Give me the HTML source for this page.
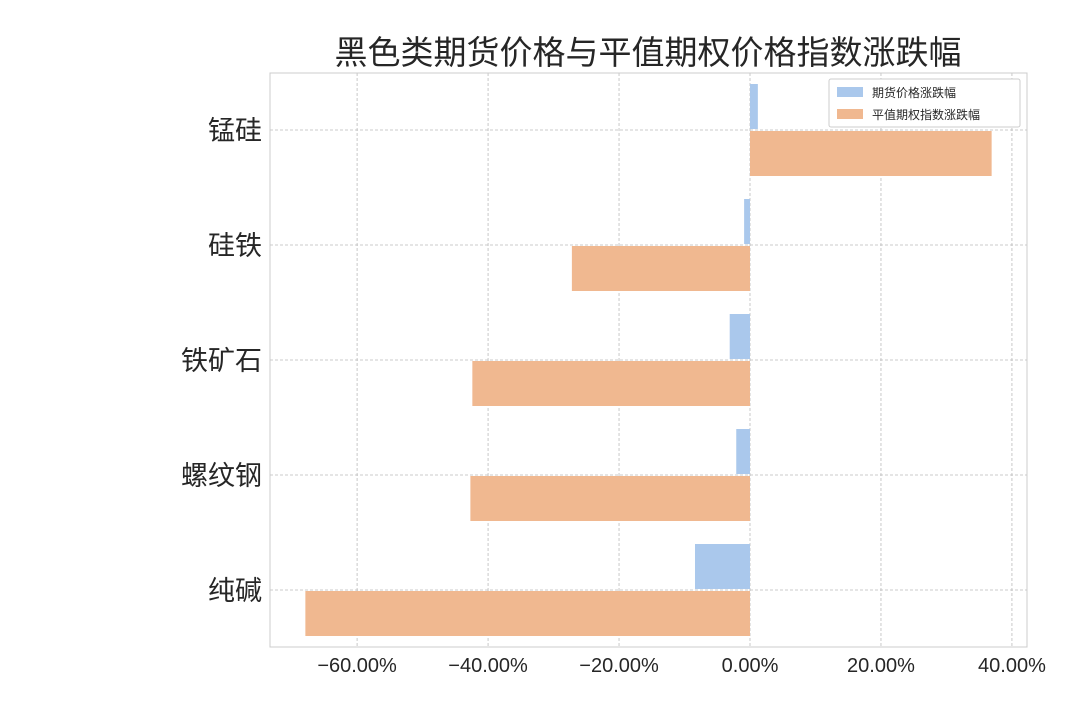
<!DOCTYPE html>
<html><head><meta charset="utf-8"><style>
body{margin:0;background:#fff;}
svg text{font-family:"Liberation Sans","Noto Sans CJK SC",sans-serif;fill:#262626;}
</style></head><body>
<svg width="1080" height="720">
<text x="648" y="64" font-size="33" text-anchor="middle">黑色类期货价格与平值期权价格指数涨跌幅</text>
<g id="plot"></g>
<g>
<rect x="829" y="79" width="191" height="48" fill="#fff" stroke="#ccc" rx="2"/>
<rect x="837" y="87" width="26" height="10" fill="#aac8ec"/>
<text x="872" y="97" font-size="12">期货价格涨跌幅</text>
<rect x="837" y="109" width="26" height="10" fill="#f0b890"/>
<text x="872" y="119" font-size="12">平值期权指数涨跌幅</text>
</g>
</svg>
<script>
const categories=["锰硅","硅铁","铁矿石","螺纹钢","纯碱"];
const futures=[1.2,-0.9,-3.1,-2.1,-8.4];
const options=[36.9,-27.2,-42.4,-42.7,-67.9];
const xTicks=[-60,-40,-20,0,20,40];
const NS="http://www.w3.org/2000/svg";
const L=270,R=1027,T=73,B=647,xmin=-73.3,xmax=42.3;
const x=v=>L+(v-xmin)/(xmax-xmin)*(R-L);
const yc=i=>130+i*115;
const g=document.getElementById('plot');
function mk(t,a){const e=document.createElementNS(NS,t);for(const k in a)e.setAttribute(k,a[k]);g.appendChild(e);return e;}
xTicks.forEach(v=>{
const l=mk('line',{x1:x(v),x2:x(v),y1:T,y2:B,stroke:'#bbb','stroke-dasharray':'3,2','stroke-width':0.8});


const t=mk('text',{x:x(v),y:672,'font-size':20,'text-anchor':'middle'});
t.textContent=(v<0?'−':'')+Math.abs(v).toFixed(2)+'%';


});
categories.forEach((c,i)=>{
const l=mk('line',{x1:L,x2:R,y1:yc(i),y2:yc(i),stroke:'#bbb','stroke-dasharray':'3,2','stroke-width':0.8});


const t=mk('text',{x:262,y:yc(i)+10,'font-size':27,'text-anchor':'end'});
t.textContent=c;


const f=futures[i],o=options[i];
const b1=mk('rect',{x:Math.min(x(0),x(f)),y:yc(i)-46,width:Math.abs(x(f)-x(0)),height:45,fill:'#aac8ec'});


const b2=mk('rect',{x:Math.min(x(0),x(o)),y:yc(i)+1,width:Math.abs(x(o)-x(0)),height:45,fill:'#f0b890'});


});
const fr=mk('rect',{x:L,y:T,width:R-L,height:B-T,fill:'none',stroke:'#ccc'});


</script>
</body></html>
